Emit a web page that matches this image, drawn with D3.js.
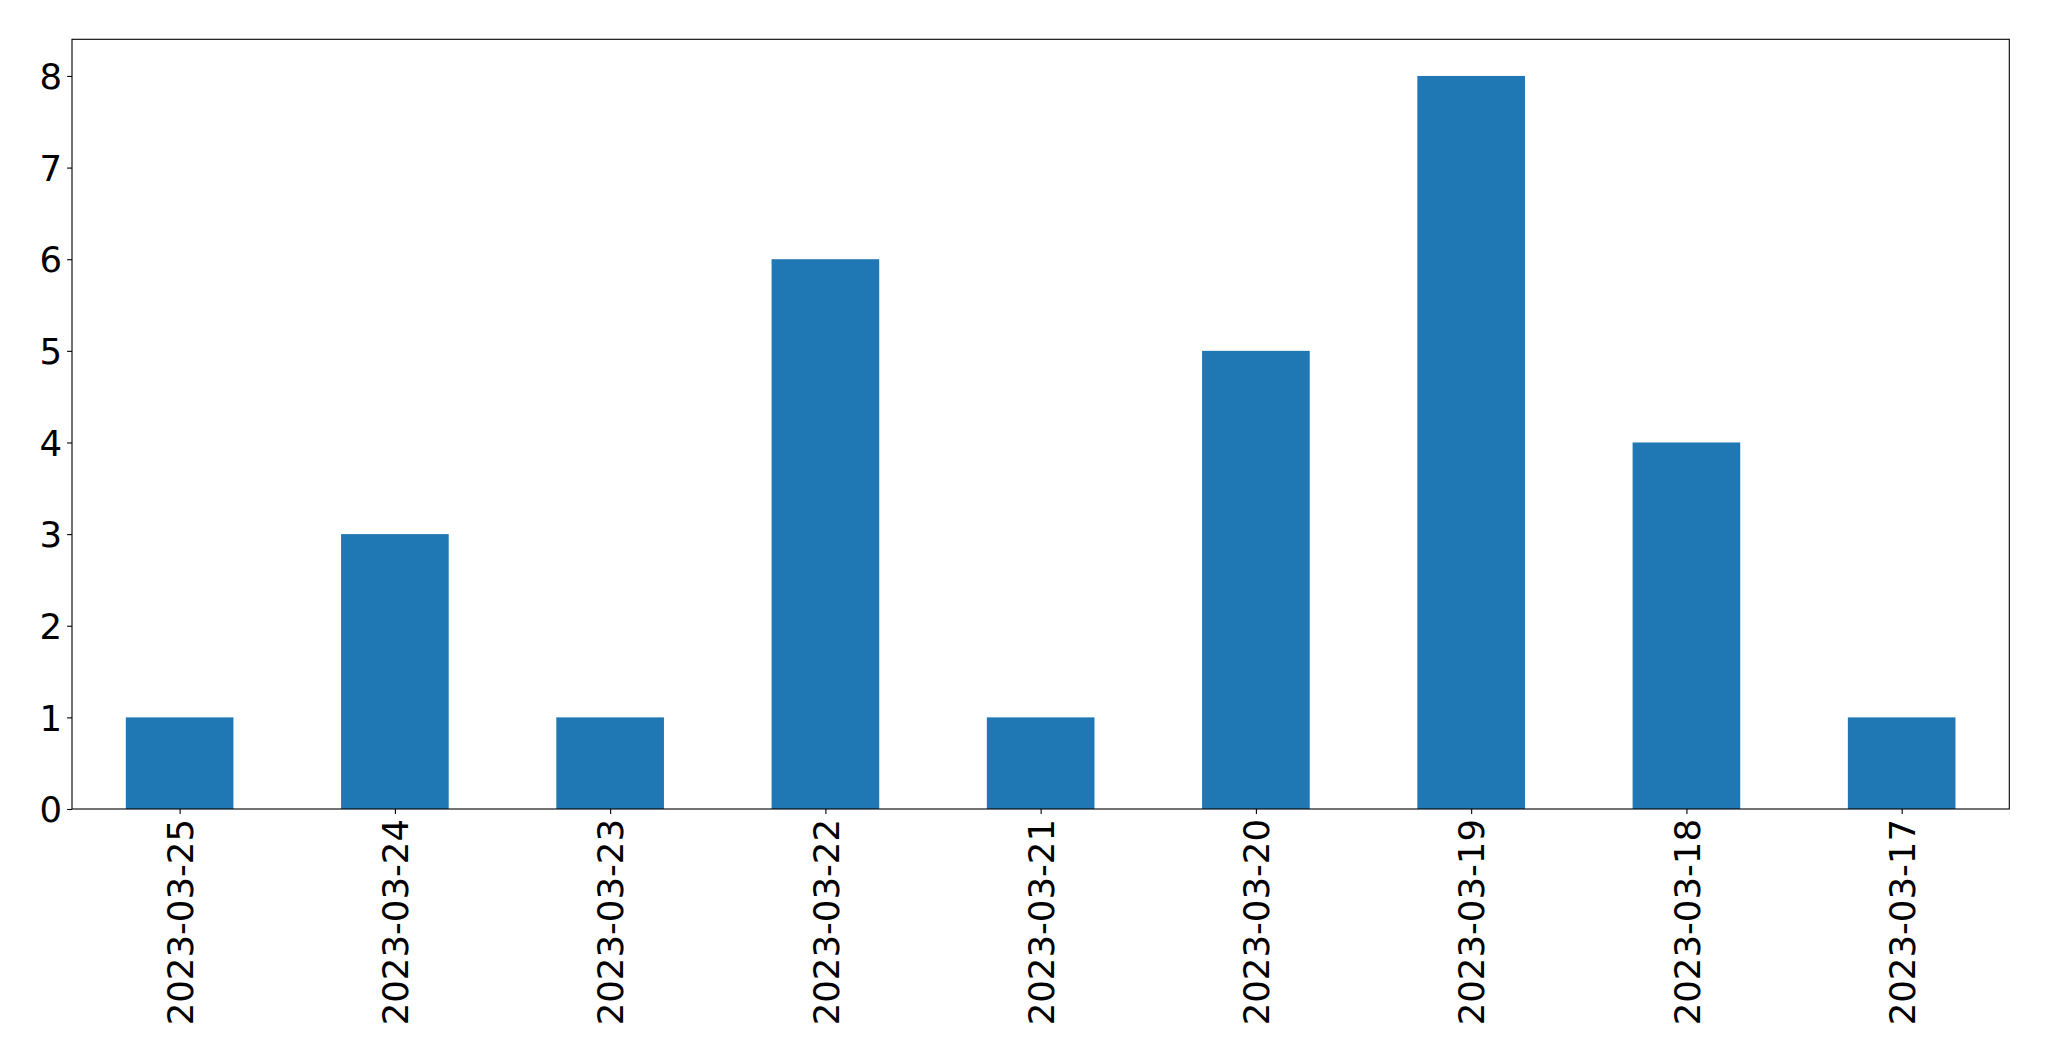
<!DOCTYPE html>
<html><head><meta charset="utf-8">
<script src="https://cdn.jsdelivr.net/npm/d3@7"></script>
<style>body{margin:0;background:#fff}svg{display:block}text{font-family:"DejaVu Sans",sans-serif}</style>
</head><body>
<svg id="c" width="2049" height="1061"></svg>
<script>
const categories = ["2023-03-25","2023-03-24","2023-03-23","2023-03-22","2023-03-21","2023-03-20","2023-03-19","2023-03-18","2023-03-17"];
const values = [1,3,1,6,1,5,8,4,1];
const yTicks = [0,1,2,3,4,5,6,7,8];

const W = 2049, H = 1061;
const m = {left:72, right:2009.3, top:39.3, bottom:809};
const svg = d3.select("#c");
const fs = 35.5;

const x = d3.scaleLinear().domain([-0.5, categories.length - 0.5]).range([m.left, m.right]);
const y = d3.scaleLinear().domain([0, 8.4]).range([m.bottom, m.top]);
const bw = x(0.5) - x(0);

svg.append("g").selectAll("rect").data(values).join("rect")
  .attr("x", (d,i) => x(i - 0.25))
  .attr("width", bw)
  .attr("y", d => y(d))
  .attr("height", d => y(0) - y(d))
  .attr("fill", "#1f77b4");

// y axis
const ya = svg.append("g").attr("transform", `translate(${m.left},0)`)
  .call(d3.axisLeft(y).tickValues(yTicks).tickFormat(d3.format("d")).tickSize(4.9).tickPadding(4.9));
ya.select(".domain").remove();
ya.selectAll("line").attr("stroke","#000").attr("stroke-width",1.1);
ya.selectAll("text").attr("font-size", fs).attr("fill","#000").attr("font-family","DejaVu Sans").attr("dy","0.36em");

// x axis
const xa = svg.append("g").attr("transform", `translate(0,${m.bottom})`)
  .call(d3.axisBottom(x).tickValues(d3.range(categories.length)).tickFormat(i => categories[i]).tickSize(4.9).tickPadding(0));
xa.select(".domain").remove();
xa.selectAll("line").attr("stroke","#000").attr("stroke-width",1.1);
xa.selectAll("text").attr("font-size", fs).attr("fill","#000").attr("font-family","DejaVu Sans")
  .attr("text-anchor","end")
  .attr("transform","translate(0,10) rotate(-90)")
  .attr("x",0).attr("y",0).attr("dy","0.36em");

// frame
svg.append("rect").attr("x", m.left).attr("y", m.top)
  .attr("width", m.right - m.left).attr("height", m.bottom - m.top)
  .attr("fill","none").attr("stroke","#000").attr("stroke-width",1.1);
</script>
</body></html>
